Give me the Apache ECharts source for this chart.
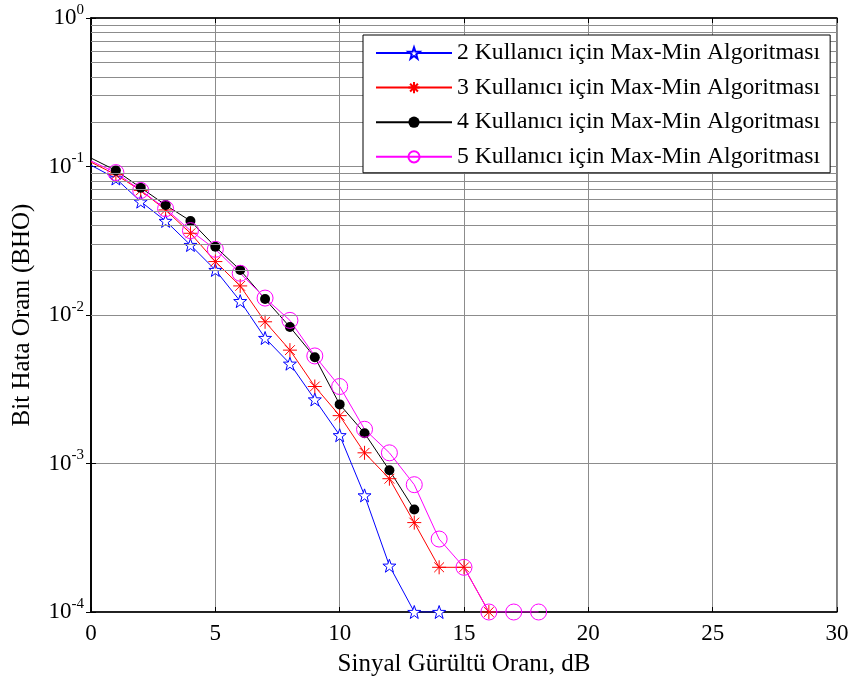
<!DOCTYPE html>
<html>
<head>
<meta charset="utf-8">
<script src="https://cdn.jsdelivr.net/npm/echarts@6/dist/echarts.min.js"></script>
<style>
  html, body { margin: 0; padding: 0; background: #fff; }
  #chart { width: 850px; height: 684px; }
</style>
</head>
<body>
<div id="chart"></div>
<script>
// SNR (dB) values for each curve
var snr2 = [0, 1, 2, 3, 4, 5, 6, 7, 8, 9, 10, 11, 12, 13, 14];
var snr3 = [0, 1, 2, 3, 4, 5, 6, 7, 8, 9, 10, 11, 12, 13, 14, 15, 16];
var snr4 = [0, 1, 2, 3, 4, 5, 6, 7, 8, 9, 10, 11, 12, 13];
var snr5 = [0, 1, 2, 3, 4, 5, 6, 7, 8, 9, 10, 11, 12, 13, 14, 15, 16, 17, 18];

// bit error rates
var ber2 = [0.102, 0.083, 0.058, 0.043, 0.0296, 0.0201, 0.0124, 0.0070, 0.0047, 0.0027, 0.00155, 0.00061, 0.000205, 0.0001, 0.0001];
var ber3 = [0.107, 0.088, 0.069, 0.051, 0.0355, 0.0229, 0.0157, 0.0090, 0.0058, 0.0033, 0.0021, 0.00118, 0.00079, 0.0004, 0.0002, 0.0002, 0.0001];
var ber4 = [0.114, 0.094, 0.072, 0.055, 0.043, 0.0288, 0.0201, 0.0128, 0.0083, 0.0052, 0.0025, 0.0016, 0.0009, 0.00049];
var ber5 = [0.109, 0.091, 0.069, 0.052, 0.037, 0.0277, 0.0191, 0.0130, 0.0092, 0.0053, 0.0033, 0.0017, 0.00118, 0.00072, 0.00031, 0.0002, 0.0001, 0.0001, 0.0001];

var names = [
  '2 Kullanıcı için Max-Min Algoritması',
  '3 Kullanıcı için Max-Min Algoritması',
  '4 Kullanıcı için Max-Min Algoritması',
  '5 Kullanıcı için Max-Min Algoritması'
];

var yDecades = [-4, -3, -2, -1, 0];

var starPath = 'path://M0,-10L2.35,-3.24L9.51,-3.09L3.8,1.24L5.88,8.09L0,4L-5.88,8.09L-3.8,1.24L-9.51,-3.09L-2.35,-3.24Z';
var asteriskPath = 'path://M0,-10L0,10M-10,0L10,0M-7,-7L7,7M-7,7L7,-7';

var font = 'Liberation Serif';

// (x, y) pairs; the first point at 0 dB has no marker
function pairs(xs, ys) {
  return xs.map(function (x, i) {
    var item = { value: [x, ys[i]] };
    if (i === 0) item.symbol = 'none';
    return item;
  });
}

// minor grid lines at 2..9 of every decade
var minorLines = [];
yDecades.slice(0, 4).forEach(function (e) {
  for (var k = 2; k <= 9; k++) {
    minorLines.push({ yAxis: k * Math.pow(10, e) });
  }
});

function supLabel(v) {
  var e = Math.round(Math.log10(v));
  return '{b|10}{s|' + e + '}';
}

var chart = echarts.init(document.getElementById('chart'));

var option = {
  animation: false,
  backgroundColor: '#fff',
  grid: {
    left: 91, right: 13, top: 18, bottom: 72,
    containLabel: false,
    outerBoundsMode: 'none',
    show: true, borderColor: '#000', borderWidth: 1
  },
  legend: {
    zlevel: 1,
    z: 10,
    left: 363, top: 35,
    orient: 'vertical',
    backgroundColor: '#fff',
    borderColor: '#000',
    borderWidth: 1,
    borderRadius: 0,
    padding: [6, 10, 4, 12],
    itemGap: 10.6,
    itemWidth: 76,
    itemHeight: 14,
    textStyle: { fontFamily: font, fontSize: 23.7, color: '#000' },
    data: names
  },
  xAxis: [{
    type: 'value',
    min: 0, max: 30, interval: 5,
    name: 'Sinyal Gürültü Oranı, dB',
    nameLocation: 'middle',
    nameGap: 40,
    nameTextStyle: { fontFamily: font, fontSize: 25, color: '#000' },
    axisLine: { lineStyle: { color: '#000', width: 1.5 } },
    axisTick: { inside: true, length: 5, lineStyle: { color: '#000' } },
    axisLabel: { fontFamily: font, fontSize: 23, color: '#000', margin: 10 },
    splitLine: { show: true, lineStyle: { color: '#8c8c8c', width: 1 } }
  }, {
    type: 'value',
    position: 'top',
    min: 0, max: 30, interval: 5,
    axisLine: { lineStyle: { color: '#000', width: 1.5 } },
    axisTick: { inside: true, length: 5, lineStyle: { color: '#000' } },
    axisLabel: { show: false },
    splitLine: { show: false }
  }],
  yAxis: [{
    type: 'log',
    logBase: 10,
    min: 1e-4, max: 1,
    name: 'Bit Hata Oranı (BHO)',
    nameLocation: 'middle',
    nameGap: 56,
    nameTextStyle: { fontFamily: font, fontSize: 25, color: '#000' },
    axisLine: { show: true, lineStyle: { color: '#000', width: 1.5 } },
    axisTick: { inside: true, length: 5, lineStyle: { color: '#000' } },
    axisLabel: {
      margin: 7,
      formatter: supLabel,
      rich: {
        b: { fontFamily: font, fontSize: 23, color: '#000' },
        s: { fontFamily: font, fontSize: 15, color: '#000', padding: [0, 0, 16, 0] }
      }
    },
    splitLine: { show: true, lineStyle: { color: '#8c8c8c', width: 1 } }
  }, {
    type: 'log',
    logBase: 10,
    min: 1e-4, max: 1,
    position: 'right',
    axisLine: { show: true, lineStyle: { color: '#000', width: 1.5 } },
    axisTick: { inside: true, length: 5, lineStyle: { color: '#000' } },
    axisLabel: { show: false },
    splitLine: { show: false }
  }],
  series: [{
    type: 'line',
    name: '_grid',
    silent: true,
    z: 1,
    data: [[0, 1e-4]],
    showSymbol: false,
    lineStyle: { opacity: 0 },
    markLine: {
      silent: true,
      symbol: ['none', 'none'],
      label: { show: false },
      lineStyle: { color: '#8c8c8c', type: 'solid', width: 1 },
      emphasis: { disabled: true },
      data: minorLines
    }
  }, {
    type: 'line',
    name: names[0],
    z: 3,
    data: pairs(snr2, ber2),
    symbol: starPath,
    symbolSize: 13,
    lineStyle: { color: '#0000ff', width: 1 },
    itemStyle: { color: '#fff', borderColor: '#0000ff', borderWidth: 1 }
  }, {
    type: 'line',
    name: names[1],
    z: 3,
    data: pairs(snr3, ber3),
    symbol: asteriskPath,
    symbolSize: 14,
    lineStyle: { color: '#ff0000', width: 1 },
    itemStyle: { color: 'none', borderColor: '#ff0000', borderWidth: 1 }
  }, {
    type: 'line',
    name: names[2],
    z: 3,
    data: pairs(snr4, ber4),
    symbol: 'circle',
    symbolSize: 10,
    lineStyle: { color: '#000', width: 1 },
    itemStyle: { color: '#000', borderColor: '#000', borderWidth: 0 }
  }, {
    type: 'line',
    name: names[3],
    z: 3,
    data: pairs(snr5, ber5),
    symbol: 'circle',
    symbolSize: 16,
    lineStyle: { color: '#ff00ff', width: 1 },
    itemStyle: { color: 'none', borderColor: '#ff00ff', borderWidth: 1 }
  }]
};

chart.setOption(option);
</script>
</body>
</html>
